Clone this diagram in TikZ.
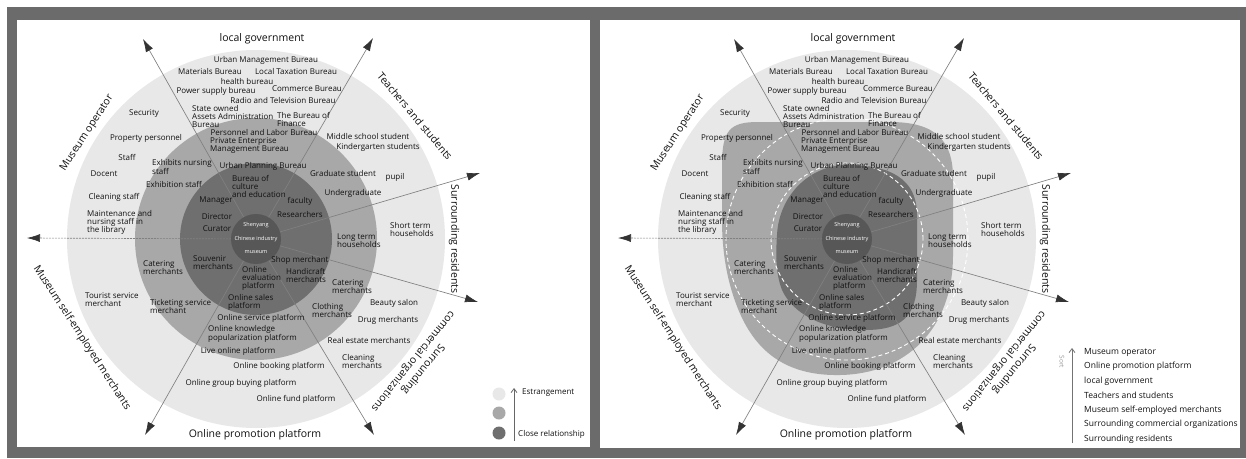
\documentclass[tikz,border=0pt]{standalone}
\usepackage{fontspec}
\setmainfont{Open Sans}
\usetikzlibrary{arrows.meta}
\definecolor{bord}{HTML}{6B6B6B}
\definecolor{ringA}{HTML}{E8E8E8}
\definecolor{ringB}{HTML}{A8A8A8}
\definecolor{ringC}{HTML}{6F6F6F}
\definecolor{ringD}{HTML}{575757}
\definecolor{txt}{HTML}{111111}
\definecolor{spoke}{HTML}{808080}
\definecolor{tipc}{HTML}{333333}

\newcommand\diagramtext[1]{%
  \node[circle, fill=ringD, minimum size=50pt, inner sep=0pt] (#1c) at (256,239) {};
  \coordinate (#1t1) at (143,39);
  \coordinate (#1t2) at (373,38);
  \coordinate (#1t3) at (480,173);
  \coordinate (#1t4) at (478,302);
  \coordinate (#1t5) at (374,435);
  \coordinate (#1t6) at (145,435);
  \coordinate (#1t7) at (27,238);
  \draw[spk] (#1c) -- (#1t1);
  \draw[spk] (#1c) -- (#1t2);
  \draw[spk] (#1c) -- (#1t3);
  \draw[spk] (#1c) -- (#1t4);
  \draw[spk] (#1c) -- (#1t5);
  \draw[spk] (#1c) -- (#1t6);
  \draw[spk, dash pattern=on 2pt off 1pt] (#1c) -- (#1t7);
  % centre
  \node[ctr] (#1m1) at (256,225) {Shenyang};
  \node[ctr] (#1m2) at (256,239) {Chinese industry};
  \node[ctr] (#1m3) at (256,252) {museum};
  % local government
  \node[lbl] (#1a1) at (266,60) {Urban Management Bureau};
  \node[lbl] (#1a2) at (210,71) {Materials Bureau};
  \node[lbl] (#1a3) at (296,71) {Local Taxation Bureau};
  \node[lbl] (#1a4) at (247,81) {health bureau};
  \node[lbl] (#1a5) at (216,91) {Power supply bureau};
  \node[lbl] (#1a6) at (307,89) {Commerce Bureau};
  \node[lbl] (#1a7) at (283,100) {Radio and Television Bureau};
  \node[lblL] (#1a8) at (192,116) {State owned\\Assets Administration\\Bureau};
  \node[lblL] (#1a9) at (277,119) {The Bureau of\\Finance};
  \node[lbl] (#1a10) at (264,132) {Personnel and Labor Bureau};
  \node[lblL] (#1a11) at (210,146) {Private Enterprise\\Management Bureau};
  \node[lbl] (#1a12) at (263,166) {Urban Planning Bureau};
  \node[lblL] (#1a13) at (232,186) {Bureau of\\culture\\and education};
  % museum operator
  \node[lbl] (#1b1) at (216,201) {Manager};
  \node[lbl] (#1b2) at (217,217) {Director};
  \node[lbl] (#1b3) at (217,229) {Curator};
  \node[lblL] (#1b4) at (87,222) {Maintenance and\\nursing staff in\\the library};
  \node[lbl] (#1b5) at (114,197) {Cleaning staff};
  \node[lbl] (#1b6) at (104,174) {Docent};
  \node[lbl] (#1b7) at (127,157) {Staff};
  \node[lbl] (#1b8) at (146,138) {Property personnel};
  \node[lbl] (#1b9) at (144,114) {Security};
  \node[lblL] (#1b10) at (152,167) {Exhibits nursing\\staff};
  \node[lbl] (#1b11) at (174,184) {Exhibition staff};
  % teachers and students
  \node[lbl] (#1d1) at (300,201) {faculty};
  \node[lbl] (#1d2) at (300,214) {Researchers};
  \node[lbl] (#1d3) at (368,136) {Middle school student};
  \node[lbl] (#1d4) at (378,147) {Kindergarten students};
  \node[lbl] (#1d5) at (343,173) {Graduate student};
  \node[lbl] (#1d6) at (395,177) {pupil};
  \node[lbl] (#1d7) at (353,193) {Undergraduate};
  % residents
  \node[lblL] (#1e1) at (390,229) {Short term\\households};
  \node[lblL] (#1e2) at (337,241) {Long term\\households};
  % commercial
  \node[lbl] (#1f1) at (300,260) {Shop merchant};
  \node[lblL] (#1f2) at (286,275) {Handicraft\\merchants};
  \node[lblL] (#1f3) at (332,287) {Catering\\merchants};
  \node[lblL] (#1f4) at (312,310) {Clothing\\merchants};
  \node[lbl] (#1f5) at (394,303) {Beauty salon};
  \node[lbl] (#1f6) at (388,320) {Drug merchants};
  \node[lbl] (#1f7) at (369,340) {Real estate merchants};
  \node[lblL] (#1f8) at (342,361) {Cleaning\\merchants};
  % online platforms
  \node[lblL] (#1h1) at (242,278) {Online\\evaluation\\platform};
  \node[lblL] (#1h2) at (228,302) {Online sales\\platform};
  \node[lbl] (#1h3) at (261,318) {Online service platform};
  \node[lblL] (#1h4) at (208,334) {Online knowledge\\popularization platform};
  \node[lbl] (#1h5) at (238,351) {Live online platform};
  \node[lbl] (#1h6) at (279,366) {Online booking platform};
  \node[lbl] (#1h7) at (241,383) {Online group buying platform};
  \node[lbl] (#1h8) at (296,399) {Online fund platform};
  % self-employed merchants
  \node[lblL] (#1k1) at (193,263) {Souvenir\\merchants};
  \node[lblL] (#1k2) at (143,268) {Catering\\merchants};
  \node[lblL] (#1k3) at (150,306) {Ticketing service\\merchant};
  \node[lblL] (#1k4) at (85,300) {Tourist service\\merchant};
  % group labels
  \node[big] (#1g1) at (262,39) {local government};
  \node[big, rotate=57] (#1g2) at (87,133) {Museum operator};
  \node[big, rotate=-50] (#1g3) at (415,116) {Teachers and students};
  \node[big, rotate=-90] (#1g4) at (454,239) {Surrounding residents};
  \node[big, rotate=-129] (#1g5) at (418,365) {Surrounding\\commercial organizations};
  \node[big] (#1g6) at (255,435) {Online promotion platform};
  \node[big, rotate=-57] (#1g7) at (82,338) {Museum self-employed merchants};
}

\begin{document}
\begin{tikzpicture}[x=1pt,y=-1pt,
  lbl/.style={font=\fontsize{8}{8}\selectfont, text=txt, inner sep=0pt},
  lblL/.style={lbl, align=left, anchor=west},
  big/.style={font=\fontsize{10.5}{13}\selectfont, text=txt, inner sep=0pt, align=center},
  ctr/.style={font=\fontsize{5.5}{6}\selectfont, text=white, inner sep=0pt},
  spk/.style={draw=spoke, line width=0.65pt, -{Latex[length=13pt,width=8pt,color=tipc]}},
  leg/.style={font=\fontsize{8}{8}\selectfont, text=txt, inner sep=0pt, anchor=west},
  dot/.style={circle, minimum size=13pt, inner sep=0pt},
  wdash/.style={draw=white, line width=0.9pt, dash pattern=on 4pt off 3pt}
]
\useasboundingbox (0,0) rectangle (1246,458);
\fill[white] (0,0) rectangle (1246,458);
\fill[bord] (7,7) rectangle (1246,458);
\fill[white] (17,20) rectangle (590,447);
\fill[white] (600,20) rectangle (1240,448);

% ---------- left panel ----------
\fill[ringA] (256,239) circle[radius=189pt];
\fill[ringB] (256,239) circle[radius=121pt];
\fill[ringC] (256,239) circle[radius=76pt];
\diagramtext{L}

\node[dot, fill=ringA] (LL1) at (499,394) {};
\node[dot, fill=ringB] (LL2) at (499,413) {};
\node[dot, fill=ringC] (LL3) at (499,433) {};
\coordinate (LLa) at (514,441);
\coordinate (LLb) at (514,388);
\draw[draw=black!60, line width=0.8pt, -{Straight Barb[length=4pt,width=6pt]}] (LLa) -- (LLb);
\node[leg] (LLt1) at (522,393) {Estrangement};
\node[leg] (LLt2) at (518,434) {Close relationship};

% ---------- right panel ----------
\fill[ringA] (847,239) circle[radius=189pt];
\fill[ringB] (722,165) .. controls (722,130) and (730,122) .. (758,122) -- (890,122)
  .. controls (935,122) and (953,140) .. (953,178) -- (953,255)
  .. controls (953,330) and (905,374) .. (840,375)
  .. controls (790,376) and (760,355) .. (742,318)
  .. controls (728,288) and (722,255) .. (722,220) -- cycle;
\fill[ringC] (847,165) .. controls (875,165) and (917,170) .. (917,215) -- (917,280)
  .. controls (917,318) and (900,330) .. (865,330)
  .. controls (820,330) and (792,312) .. (782,290)
  .. controls (775,272) and (776,252) .. (777,235)
  .. controls (779,195) and (810,165) .. (847,165) -- cycle;
\draw[wdash] (847,239) circle[radius=121pt];
\draw[wdash] (847,239) circle[radius=76pt];
\begin{scope}[xshift=591pt]
\diagramtext{R}
\end{scope}

\coordinate (RLa) at (1072,443);
\coordinate (RLb) at (1072,348);
\draw[draw=black!55, line width=0.8pt, -{Straight Barb[length=4pt,width=6pt]}] (RLa) -- (RLb);
\node[font=\fontsize{6.5}{7}\selectfont, text=black!40, rotate=-90, inner sep=0pt] (RLs) at (1062,362) {Sort};
\node[leg, font=\fontsize{8.5}{9}\selectfont] (RL1) at (1084,352) {Museum operator};
\node[leg, font=\fontsize{8.5}{9}\selectfont] (RL2) at (1084,366) {Online promotion platform};
\node[leg, font=\fontsize{8.5}{9}\selectfont] (RL3) at (1084,381) {local government};
\node[leg, font=\fontsize{8.5}{9}\selectfont] (RL4) at (1084,395) {Teachers and students};
\node[leg, font=\fontsize{8.5}{9}\selectfont] (RL5) at (1084,410) {Museum self-employed merchants};
\node[leg, font=\fontsize{8.5}{9}\selectfont] (RL6) at (1084,424) {Surrounding commercial organizations};
\node[leg, font=\fontsize{8.5}{9}\selectfont] (RL7) at (1084,439) {Surrounding residents};
\end{tikzpicture}
\end{document}
